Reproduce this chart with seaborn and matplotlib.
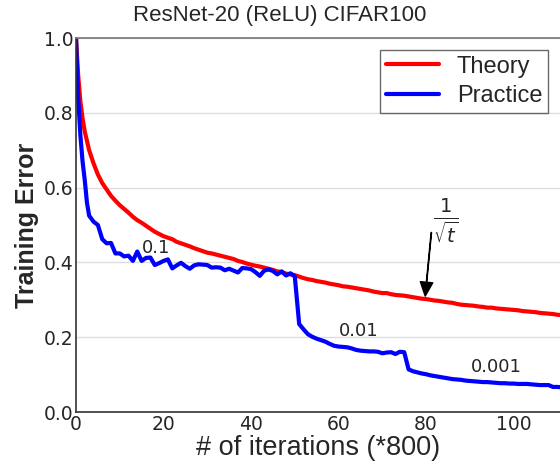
import seaborn as sns
import pandas as pd
import matplotlib
matplotlib.use('Agg')
import matplotlib.pyplot as plt

# Theory curve (red)
theory_x = [0, 0.5, 1, 1.5, 2, 2.5, 3] + list(range(4, 112))
theory_y = [1.0, 0.90, 0.83, 0.785, 0.75, 0.725, 0.70,
            0.665, 0.635, 0.612, 0.595, 0.578, 0.565, 0.553, 0.543, 0.533, 0.522,
            0.513, 0.506, 0.498, 0.490, 0.482, 0.476, 0.470, 0.466, 0.462, 0.455,
            0.451, 0.447, 0.443, 0.438, 0.434, 0.430, 0.426, 0.424, 0.421, 0.418,
            0.415, 0.412, 0.409, 0.404, 0.401, 0.397, 0.394, 0.391, 0.389, 0.386,
            0.383, 0.380, 0.376, 0.374, 0.370, 0.368, 0.366, 0.362, 0.358, 0.355,
            0.353, 0.350, 0.348, 0.346, 0.343, 0.341, 0.339, 0.336, 0.335, 0.333,
            0.331, 0.329, 0.327, 0.325, 0.322, 0.320, 0.318, 0.318, 0.315, 0.313,
            0.312, 0.311, 0.309, 0.307, 0.305, 0.303, 0.302, 0.300, 0.298, 0.297,
            0.295, 0.293, 0.292, 0.289, 0.287, 0.286, 0.285, 0.284, 0.282, 0.281,
            0.279, 0.279, 0.277, 0.276, 0.275, 0.274, 0.273, 0.272, 0.270, 0.269,
            0.268, 0.267, 0.265, 0.264, 0.263, 0.262, 0.260, 0.259]

# Practice curve (blue)
practice_x = [0, 0.5, 1, 1.5, 2, 2.5, 3] + list(range(4, 112))
practice_y = [1.0, 0.84, 0.74, 0.67, 0.62, 0.56, 0.525,
              0.509, 0.500, 0.462, 0.451, 0.452, 0.424, 0.424, 0.416, 0.418, 0.404,
              0.429, 0.404, 0.412, 0.413, 0.393, 0.398, 0.404, 0.408, 0.384, 0.392,
              0.399, 0.390, 0.383, 0.392, 0.395, 0.394, 0.393, 0.386, 0.387, 0.386,
              0.379, 0.383, 0.378, 0.373, 0.385, 0.384, 0.382, 0.374, 0.364, 0.378,
              0.381, 0.377, 0.368, 0.376, 0.365, 0.371, 0.362, 0.235, 0.221, 0.208,
              0.201, 0.196, 0.192, 0.188, 0.182, 0.177, 0.175, 0.174, 0.173, 0.170,
              0.166, 0.164, 0.163, 0.162, 0.162, 0.161, 0.157, 0.159, 0.160, 0.155,
              0.161, 0.160, 0.114, 0.109, 0.106, 0.103, 0.101, 0.098, 0.096, 0.094,
              0.092, 0.090, 0.088, 0.087, 0.086, 0.084, 0.083, 0.082, 0.081, 0.080,
              0.080, 0.079, 0.078, 0.077, 0.077, 0.076, 0.076, 0.075, 0.075, 0.075,
              0.074, 0.073, 0.072, 0.072, 0.072, 0.067, 0.067, 0.066]

lr_labels = ['0.1', '0.01', '0.001']
lr_pos = [(18.4, 0.438), (64.7, 0.217), (96.0, 0.119)]

sns.set_style('white')
plt.rcParams['font.family'] = ['DejaVu Sans']
arial = 'Liberation Sans'

fig = plt.figure(figsize=(5.6, 4.66), dpi=100)
ax = fig.add_axes([76 / 560, 54 / 466, 484 / 560, 374 / 466])

sns.lineplot(x=theory_x, y=theory_y, color='#ff0000', lw=3, label='Theory', ax=ax)
sns.lineplot(x=practice_x, y=practice_y, color='#0000ff', lw=3, label='Practice', ax=ax)

ax.set_xlim(0, 110.6)
ax.set_ylim(0, 1.0)
ax.set_xticks([0, 20, 40, 60, 80, 100])
ax.set_yticks([0.0, 0.2, 0.4, 0.6, 0.8, 1.0])
ax.yaxis.grid(True, color='#dddddd', lw=1)
ax.set_axisbelow(True)
ax.tick_params(direction='in', labelsize=13.5, length=4, color='#333333', pad=2)

for side in ['left', 'bottom']:
    ax.spines[side].set_color('#333333')
    ax.spines[side].set_linewidth(1.2)
ax.spines['top'].set_color('#777777')
ax.spines['top'].set_linewidth(1.2)
ax.spines['right'].set_visible(False)

# title sits over the figure centre rather than the axes centre
ttl = ax.set_title('ResNet-20 (ReLU) CIFAR100', fontsize=16, family=arial, pad=12)
ttl.set_x((280 - 76) / 484)
ax.set_xlabel('# of iterations (*800)', fontsize=19.5, family=arial, labelpad=1)
ax.set_ylabel('Training Error', fontsize=18, family=arial, fontweight='bold', labelpad=3)

for lab, (tx, ty) in zip(lr_labels, lr_pos):
    ax.text(tx, ty, lab, fontsize=13, ha='center', va='center')

ax.annotate('', xy=(79.8, 0.31), xytext=(81.2, 0.48),
            arrowprops=dict(facecolor='black', edgecolor='black', width=0.3,
                            headwidth=9, headlength=10, shrink=0))
ax.text(84.4, 0.51, r'$\frac{1}{\sqrt{t}}$', fontsize=20, ha='center', va='center')

leg = ax.legend(loc='upper right', frameon=True, fancybox=False,
                edgecolor='#444444', borderaxespad=0.5, handlelength=2.25,
                handletextpad=0.75, borderpad=0.25, labelspacing=0.3,
                prop={'family': arial, 'size': 17})
leg.get_frame().set_linewidth(1.0)

fig.savefig('out.png', dpi=100)
